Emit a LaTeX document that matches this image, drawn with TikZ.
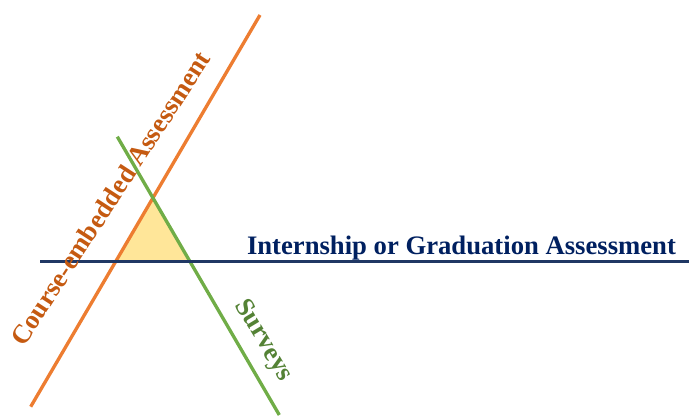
\documentclass[tikz,border=0pt]{standalone}
\usepackage{fontspec}
\setmainfont{Liberation Serif}
\definecolor{courseline}{HTML}{ED7D31}
\definecolor{coursetext}{HTML}{C55A11}
\definecolor{surveyline}{HTML}{70AD47}
\definecolor{surveytext}{HTML}{548235}
\definecolor{internline}{HTML}{203864}
\definecolor{interntext}{HTML}{002060}
\definecolor{overlap}{HTML}{FFE699}
\tikzstyle{linetext}=[font=\bfseries\fontsize{20}{24}\selectfont, inner sep=0pt, anchor=base]
\tikzstyle{thickline}=[line width=2.5pt]

\begin{document}
\begin{tikzpicture}[x=0.75pt, y=-0.75pt]
\useasboundingbox (0,0) rectangle (689,416);
\coordinate (courseup) at (260,15);
\coordinate (coursedown) at (30.7,406.7);
\coordinate (surveyup) at (117.3,136.7);
\coordinate (surveydown) at (279.3,415);
\coordinate (internleft) at (40,261.7);
\coordinate (internright) at (689,261.7);
%
\coordinate (apex) at (intersection of courseup--coursedown and surveyup--surveydown);
\coordinate (leftfoot) at (intersection of courseup--coursedown and internleft--internright);
\coordinate (rightfoot) at (intersection of surveyup--surveydown and internleft--internright);
\fill[overlap] (apex) -- (leftfoot) -- (rightfoot) -- cycle;
%
\draw[thickline, courseline] (coursedown) -- (courseup);
\draw[thickline, surveyline] (surveyup) -- (surveydown);
\draw[thickline, internline] (internleft) -- (internright);
%
\node[linetext, text=coursetext, rotate=57] (course) at (118,203)
  {Course-embedded Assessment};
\node[linetext, text=surveytext, rotate=-59] (survey) at (258,344) {Surveys};
\node[linetext, text=interntext] (intern) at (461.5,254.3)
  {Internship or Graduation Assessment};
\end{tikzpicture}
\end{document}
